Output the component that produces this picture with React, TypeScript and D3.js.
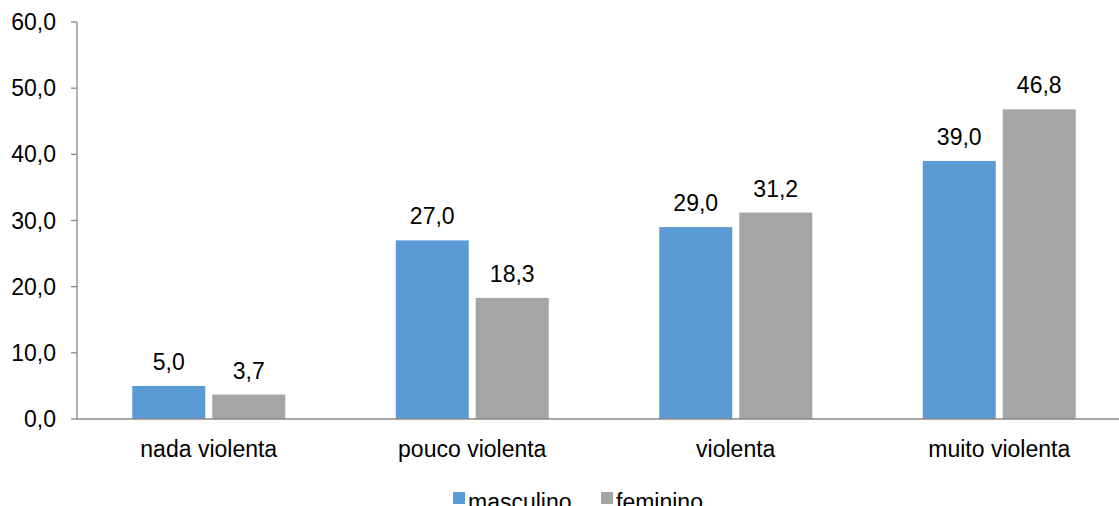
import React from "react";
import * as d3 from "d3";

const categories = ["nada violenta", "pouco violenta", "violenta", "muito violenta"];
const masculino = [5.0, 27.0, 29.0, 39.0];
const feminino = [3.7, 18.3, 31.2, 46.8];
const yTicks = [0, 10, 20, 30, 40, 50, 60];
const seriesNames = ["masculino", "feminino"];
const seriesColors = ["#5B9BD5", "#A5A5A5"];

const W = 1119;
const H = 506;
const FONT = "'Liberation Sans', Arial, sans-serif";
const FS = 23;

const fmt = (v: number) => v.toFixed(1).replace(".", ",");

export default function App() {
  const left = 77;
  const right = 1131;
  const top = 22;
  const bottom = 419;

  const x = d3.scaleBand<string>().domain(categories).range([left, right]);
  const y = d3.scaleLinear().domain([0, 60]).range([bottom, top]);
  const barW = 73;
  const gap = 7;

  const series = [masculino, feminino];

  return (
    <svg
      width={W}
      height={H}
      style={{ position: "absolute", left: 0, top: 0, background: "#fff" }}
      fontFamily={FONT}
    >
      {/* bars and value labels */}
      {categories.map((c, i) => {
        const cx = (x(c) as number) + x.bandwidth() / 2;
        return series.map((vals, s) => {
          const bx = s === 0 ? cx - gap / 2 - barW : cx + gap / 2;
          const v = vals[i];
          return (
            <g key={`${c}-${s}`}>
              <rect
                x={bx}
                y={y(v)}
                width={barW}
                height={y(0) - y(v)}
                fill={seriesColors[s]}
              />
              <text
                x={bx + barW / 2}
                y={y(v) - 16}
                textAnchor="middle"
                fontSize={FS}
                fill="#000"
              >
                {fmt(v)}
              </text>
            </g>
          );
        });
      })}

      {/* y axis */}
      <line x1={left} x2={left} y1={y(60)} y2={y(0)} stroke="#898989" strokeWidth={1.3} />
      {yTicks.map((t) => (
        <g key={t}>
          <line x1={left - 6} x2={left} y1={y(t)} y2={y(t)} stroke="#898989" strokeWidth={1.3} />
          <text x={56} y={y(t) + 8} textAnchor="end" fontSize={FS} fill="#000">
            {fmt(t)}
          </text>
        </g>
      ))}

      {/* x axis */}
      <line x1={left} x2={W} y1={y(0)} y2={y(0)} stroke="#898989" strokeWidth={1.3} />
      {categories.map((c) => (
        <text
          key={c}
          x={(x(c) as number) + x.bandwidth() / 2}
          y={457}
          textAnchor="middle"
          fontSize={FS}
          fill="#000"
        >
          {c}
        </text>
      ))}

      {/* legend */}
      {seriesNames.map((n, s) => {
        const lx = s === 0 ? 453 : 601;
        return (
          <g key={n}>
            <rect x={lx} y={492} width={12} height={12} fill={seriesColors[s]} />
            <text x={lx + 15} y={510} fontSize={FS} fill="#000">
              {n}
            </text>
          </g>
        );
      })}
    </svg>
  );
}
